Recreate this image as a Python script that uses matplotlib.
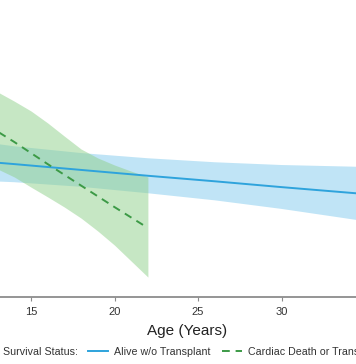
import matplotlib
matplotlib.use("Agg")
import matplotlib.pyplot as plt
import numpy as np

plt.rcParams['font.family'] = ['Liberation Sans', 'DejaVu Sans']

# cardiac death / transplant group (regression line + CI)
death_age = [12, 13, 14, 15, 16, 17, 18, 19, 20, 21, 22]
death_fit = [57.3, 53.9, 50.5, 46.9, 43.3, 39.8, 36.3, 32.8, 29.3, 25.9, 22.5]
death_hi = [70.7, 66.8, 63.8, 60.6, 56.7, 52.4, 48.2, 45.3, 43.0, 41.0, 39.1]
death_lo = [44.0, 41.7, 39.1, 35.8, 32.6, 29.3, 25.7, 21.5, 16.9, 11.7, 6.5]

# alive without transplant group
alive_age = [10, 14, 18, 22, 26, 30, 34, 36]
alive_fit = [45.1, 43.3, 41.4, 39.5, 37.7, 35.8, 34.0, 33.1]
alive_hi = [52.0, 49.1, 46.9, 45.2, 43.9, 43.0, 42.5, 42.2]
alive_lo = [38.3, 37.4, 35.9, 33.8, 31.5, 28.7, 25.5, 23.9]

xticks = [15, 20, 25, 30]

blue = '#2ea3dc'
green = '#3c9a46'

fig = plt.figure(figsize=(3.56, 3.64), dpi=100)
ax = fig.add_axes([-0.1006, 0.184, 1.2517, 0.8434])

ax.fill_between(alive_age, alive_lo, alive_hi, color='#96d3f1', alpha=0.6, lw=0)
ax.fill_between(death_age, death_lo, death_hi, color='#8fd08a', alpha=0.5, lw=0)
ax.plot(alive_age, alive_fit, color=blue, lw=1.4, label='Alive w/o Transplant')
ax.plot(death_age, death_fit, color=green, lw=1.4, ls=(0, (4, 3)),
        label='Cardiac Death or Transplant')

ax.set_xlim(11, 37.68)
ax.set_ylim(0, 100)
ax.set_xticks(xticks)
ax.set_yticks([])
for s in ['top', 'right', 'left']:
    ax.spines[s].set_visible(False)
ax.spines['bottom'].set_color('#8c8c8c')
ax.spines['bottom'].set_linewidth(1.3)
ax.tick_params(axis='x', colors='#8c8c8c', length=3, width=0.8, pad=4,
               labelsize=8, labelcolor='#333333')
ax.set_xlabel('Age (Years)', fontsize=11, color='#222222', labelpad=5)

fig.text(3 / 356, 0.033, 'Survival Status:', fontsize=7.7, color='#333333',
         va='center', ha='left')
fig.legend(loc='center left', bbox_to_anchor=(88 / 356, 0.033), ncol=2,
           frameon=False, fontsize=7.7, borderpad=0, borderaxespad=0,
           handlelength=1.9, handletextpad=0.5, columnspacing=1.1,
           labelcolor='#333333')

fig.savefig('out.png', dpi=100)
